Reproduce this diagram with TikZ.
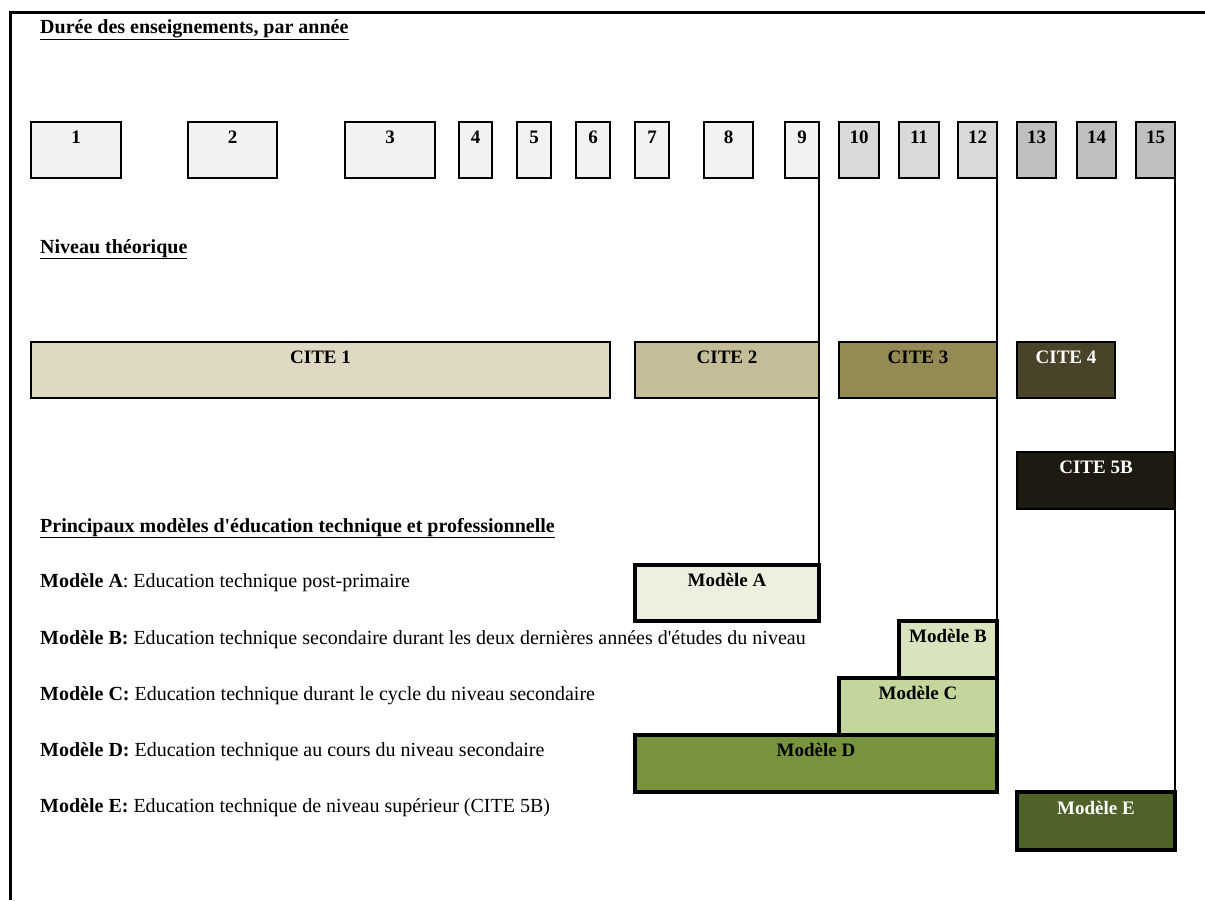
\documentclass[tikz,border=0pt]{standalone}
\usepackage{fontspec}
\setmainfont{Liberation Serif}[Ligatures=TeXOff]
\usepackage{xcolor}
\definecolor{annee1}{HTML}{F2F2F2}
\definecolor{annee2}{HTML}{D9D9D9}
\definecolor{annee3}{HTML}{BFBFBF}
\definecolor{cite1}{HTML}{DDD9C3}
\definecolor{cite2}{HTML}{C4BD97}
\definecolor{cite3}{HTML}{948A54}
\definecolor{cite4}{HTML}{494429}
\definecolor{cite5}{HTML}{1D1B11}
\definecolor{modA}{HTML}{EBF1DE}
\definecolor{modB}{HTML}{D7E4BD}
\definecolor{modC}{HTML}{C3D69B}
\definecolor{modD}{HTML}{77933C}
\definecolor{modE}{HTML}{4F6228}
\newcommand{\taille}{\fontsize{20}{24}\selectfont}
\tikzset{
	bloc/.style={draw, line width=2pt, anchor=north west, outer sep=0pt,
		inner ysep=6pt, text height=15pt, text depth=29pt,
		font=\fontsize{19}{23}\selectfont\bfseries},
	modele/.style={bloc, line width=3.5pt},
	texte/.style={anchor=base west, inner sep=0pt, font=\taille},
	lien/.style={line width=1.6pt}
}
\newcommand{\annee}[4] % left x, right x, number, fill
{
	% year box, 56 px high
	\node[bloc, fill=#4, minimum width=#2-#1, minimum height=56] (a#3) at (#1,122) {#3};
}
\newcommand{\bloc}[7] % name, left x, top y, right x, bottom y, style, label
{
	\node[#6, minimum width=#4-#2, minimum height=#5-#3] (#1) at (#2,#3) {#7};
}

\begin{document}
\begin{tikzpicture}[x=1pt, y=-1pt]
	% 1205 x 900 px, 1 px = 1 pt
	\useasboundingbox (0,0) rectangle (1205,900);
	\draw[line width=3pt] (10,900) -- (10,12) -- (1205,12);
	
	% years
	\node[texte] (titre) at (40,33) {\textbf{\underline{Durée des enseignements, par année}}};
	\annee{31}{121}{1}{annee1};
	\annee{188}{277}{2}{annee1};
	\annee{345}{435}{3}{annee1};
	\annee{459}{492}{4}{annee1};
	\annee{517}{551}{5}{annee1};
	\annee{576}{610}{6}{annee1};
	\annee{635}{669}{7}{annee1};
	\annee{704}{753}{8}{annee1};
	\annee{785}{819}{9}{annee1};
	\annee{839}{879}{10}{annee2};
	\annee{899}{939}{11}{annee2};
	\annee{958}{997}{12}{annee2};
	\annee{1017}{1056}{13}{annee3};
	\annee{1077}{1116}{14}{annee3};
	\annee{1136}{1175}{15}{annee3};
	
	% levels
	\node[texte] (niveau) at (40,253) {\textbf{\underline{Niveau théorique}}};
	\bloc{c1}{31}{342}{610}{398}{bloc, fill=cite1}{CITE 1};
	\bloc{c2}{635}{342}{819}{398}{bloc, fill=cite2}{CITE 2};
	\bloc{c3}{839}{342}{997}{398}{bloc, fill=cite3}{CITE 3};
	\bloc{c4}{1017}{342}{1115}{398}{bloc, fill=cite4, text=white}{CITE 4};
	\bloc{c5}{1017}{452}{1175}{509}{bloc, fill=cite5, text=white}{CITE 5B};
	
	% models
	\node[texte] (princ) at (40,532) {\textbf{\underline{Principaux modèles d'éducation technique et professionnelle}}};
	\node[texte] (da) at (40,587) {\textbf{Modèle A}: Education technique post-primaire};
	\node[texte] (db) at (40,644) {\textbf{Modèle B:} Education technique secondaire durant les deux dernières années d'études du niveau};
	\node[texte] (dc) at (40,700) {\textbf{Modèle C:} Education technique durant le cycle du niveau secondaire};
	\node[texte] (dd) at (40,756) {\textbf{Modèle D:} Education technique au cours du niveau secondaire};
	\node[texte] (de) at (40,812) {\textbf{Modèle E:} Education technique de niveau supérieur (CITE 5B)};
	\bloc{ma}{635}{565}{819}{621}{modele, fill=modA}{Modèle A};
	\bloc{mb}{899}{621}{997}{678}{modele, fill=modB}{Modèle B};
	\bloc{mc}{839}{678}{997}{735}{modele, fill=modC}{Modèle C};
	\bloc{md}{635}{735}{997}{792}{modele, fill=modD}{Modèle D};
	\bloc{me}{1017}{792}{1175}{850}{modele, fill=modE, text=white}{Modèle E};
	
	% end of each path
	\draw[lien] (a9.south east) -- (ma.north east);
	\draw[lien] (a12.south east) -- (mb.north east);
	\draw[lien] (a15.south east) -- (me.north east);
\end{tikzpicture}
\end{document}
